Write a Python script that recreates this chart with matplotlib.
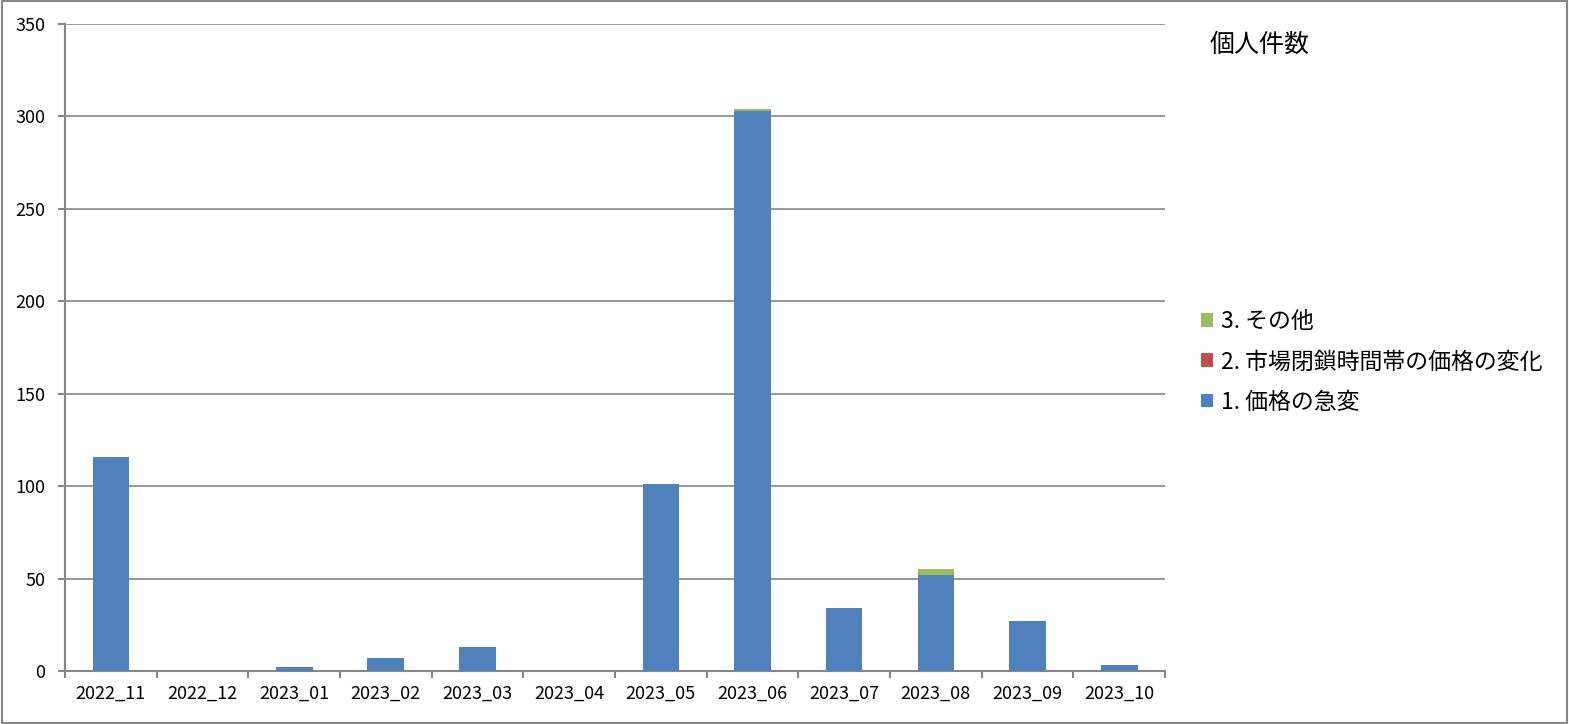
import matplotlib.pyplot as plt
import numpy as np

plt.rcParams['font.family'] = ['Noto Sans CJK JP', 'DejaVu Sans']

months = ["2022_11", "2022_12", "2023_01", "2023_02", "2023_03", "2023_04",
          "2023_05", "2023_06", "2023_07", "2023_08", "2023_09", "2023_10"]
sudden = [116, 0, 2, 7, 13, 0, 101, 303, 34, 52, 27, 3]
closed = [0, 0, 0, 0, 0, 0, 0, 0, 0, 0, 0, 0]
other = [0, 0, 0, 0, 0, 0, 0, 1, 0, 3, 0, 0]

names = ["1. 価格の急変", "2. 市場閉鎖時間帯の価格の変化", "3. その他"]
colors = ["#4f81bd", "#c0504d", "#9bbb59"]
grid_c = "#868686"

fig = plt.figure(figsize=(15.69, 7.24), dpi=100)
ax = fig.add_axes([65 / 1569, 1 - 671 / 724, 1100 / 1569, 647 / 724])

x = np.arange(len(months))
b1 = np.array(sudden)
b2 = b1 + np.array(closed)
h1 = ax.bar(x, sudden, width=0.4, color=colors[0], zorder=3)
h2 = ax.bar(x, closed, width=0.4, bottom=b1, color=colors[1], zorder=3)
h3 = ax.bar(x, other, width=0.4, bottom=b2, color=colors[2], zorder=3)

ax.set_xlim(-0.5, len(months) - 0.5)
ax.set_ylim(0, 350)
ax.set_yticks(range(0, 351, 50))
ax.yaxis.grid(True, color=grid_c, linewidth=1.2, zorder=0)
ax.set_xticks(np.arange(len(months) + 1) - 0.5, minor=False)
ax.set_xticklabels([])
ax.set_xticks(x, minor=True)
ax.set_xticklabels(months, minor=True)
ax.tick_params(axis='x', which='minor', length=0, pad=10, labelsize=13)
ax.tick_params(axis='x', which='major', length=5, width=1.5, color=grid_c)
ax.tick_params(axis='y', length=5, width=1.5, color=grid_c, labelsize=13, pad=9)

for s in ['top', 'right']:
    ax.spines[s].set_visible(False)
for s in ['left', 'bottom']:
    ax.spines[s].set_color(grid_c)
    ax.spines[s].set_linewidth(1.5)

fig.text(1210 / 1569, 1 - 45 / 724, "個人件数", fontsize=18, va='center', ha='left')

leg = fig.legend([h3, h2, h1], names[::-1], loc='center left',
                 bbox_to_anchor=(1180 / 1569, 1 - 362 / 724), frameon=False,
                 fontsize=16.5, handlelength=0.55, handleheight=0.55,
                 handletextpad=0.35, labelspacing=0.75)

border = plt.Rectangle((0.001, 0.001), 0.998, 0.997, transform=fig.transFigure,
                       fill=False, edgecolor=grid_c, linewidth=1.5)
fig.patches.append(border)

fig.savefig("out.png", dpi=100)
